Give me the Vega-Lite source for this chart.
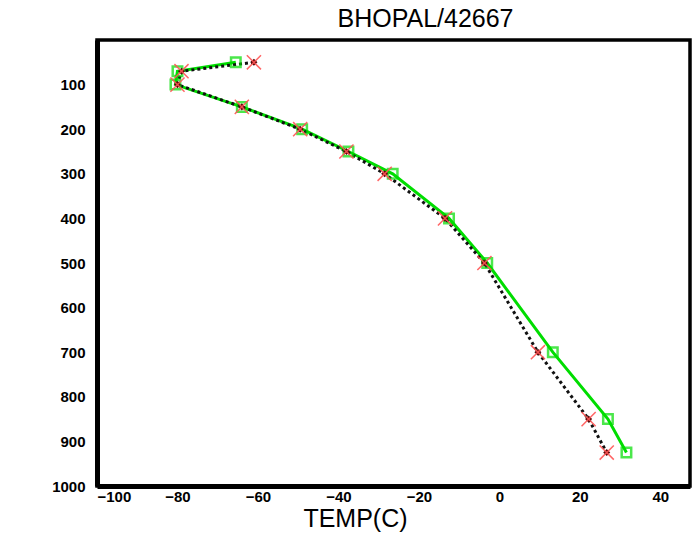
{
  "$schema": "https://vega.github.io/schema/vega-lite/v6.json",
  "width": 593,
  "height": 446,
  "autosize": {"type": "none"},
  "padding": {"left": 97, "top": 40, "right": 8, "bottom": 52},
  "background": "white",
  "config": {
    "view": {"stroke": "black", "strokeWidth": 3.5},
    "font": "Liberation Sans"
  },
  "title": {
    "text": "BHOPAL/42667",
    "fontSize": 25,
    "fontWeight": "normal",
    "font": "Liberation Sans",
    "color": "black",
    "anchor": "middle",
    "dx": 32,
    "offset": 8
  },
  "datasets": {
    "profile": [
      {"series": "OBS", "p": 50, "t": -61},
      {"series": "OBS", "p": 70, "t": -79},
      {"series": "OBS", "p": 100, "t": -80},
      {"series": "OBS", "p": 150, "t": -64},
      {"series": "OBS", "p": 200, "t": -49.5},
      {"series": "OBS", "p": 250, "t": -38},
      {"series": "OBS", "p": 300, "t": -28.5},
      {"series": "OBS", "p": 400, "t": -13.5},
      {"series": "OBS", "p": 500, "t": -3.7},
      {"series": "OBS", "p": 700, "t": 9.6},
      {"series": "OBS", "p": 850, "t": 22.2},
      {"series": "OBS", "p": 925, "t": 26.7},
      {"series": "MODEL", "p": 50, "t": -65.5},
      {"series": "MODEL", "p": 70, "t": -80},
      {"series": "MODEL", "p": 100, "t": -80.5},
      {"series": "MODEL", "p": 150, "t": -64},
      {"series": "MODEL", "p": 200, "t": -49},
      {"series": "MODEL", "p": 250, "t": -37.5},
      {"series": "MODEL", "p": 300, "t": -26.5},
      {"series": "MODEL", "p": 400, "t": -12.5},
      {"series": "MODEL", "p": 500, "t": -3},
      {"series": "MODEL", "p": 700, "t": 13.3},
      {"series": "MODEL", "p": 850, "t": 27},
      {"series": "MODEL", "p": 925, "t": 31.6}
    ]
  },
  "data": {"name": "profile"},
  "encoding": {
    "x": {
      "field": "t",
      "type": "quantitative",
      "scale": {"domain": [-100, 47.4], "nice": false, "zero": false},
      "axis": {
        "values": [-100, -80, -60, -40, -20, 0, 20, 40],
        "format": "d",
        "title": "TEMP(C)",
        "titleFontSize": 25,
        "titleFontWeight": "normal",
        "titleFont": "Liberation Sans",
        "titleColor": "black",
        "titlePadding": 2,
        "titleX": 258,
        "labelFontSize": 15,
        "labelFontWeight": "bold",
        "labelColor": "black",
        "labelPadding": 3,
        "domain": true,
        "domainWidth": 5,
        "domainColor": "black",
        "ticks": false,
        "grid": false
      }
    },
    "y": {
      "field": "p",
      "type": "quantitative",
      "scale": {"domain": [0, 1000], "reverse": true, "nice": false},
      "axis": {
        "values": [100, 200, 300, 400, 500, 600, 700, 800, 900, 1000],
        "format": "d",
        "title": null,
        "labelFontSize": 15,
        "labelFontWeight": "bold",
        "labelColor": "black",
        "labelPadding": 12,
        "domain": true,
        "domainWidth": 5,
        "domainColor": "black",
        "ticks": false,
        "grid": false
      }
    },
    "order": {"field": "p", "type": "quantitative"}
  },
  "layer": [
    {
      "transform": [{"filter": "datum.series === 'MODEL'"}],
      "mark": {"type": "line", "color": "#00dd00", "strokeWidth": 3}
    },
    {
      "transform": [{"filter": "datum.series === 'OBS'"}],
      "mark": {"type": "line", "color": "#111111", "strokeWidth": 3, "strokeDash": [3, 3]}
    },
    {
      "transform": [{"filter": "datum.series === 'MODEL'"}],
      "mark": {"type": "point", "shape": "square", "filled": false, "color": "#00dd00", "strokeWidth": 2.5, "size": 90}
    },
    {
      "transform": [{"filter": "datum.series === 'OBS'"}],
      "mark": {"type": "point", "shape": "diamond", "filled": true, "color": "#5a0a0a", "size": 50, "opacity": 1}
    },
    {
      "transform": [{"filter": "datum.series === 'OBS'"}],
      "mark": {"type": "point", "shape": "M-1,-1L1,1M1,-1L-1,1", "filled": false, "color": "#ff5555", "strokeWidth": 1.5, "size": 200, "opacity": 0.9}
    }
  ]
}
